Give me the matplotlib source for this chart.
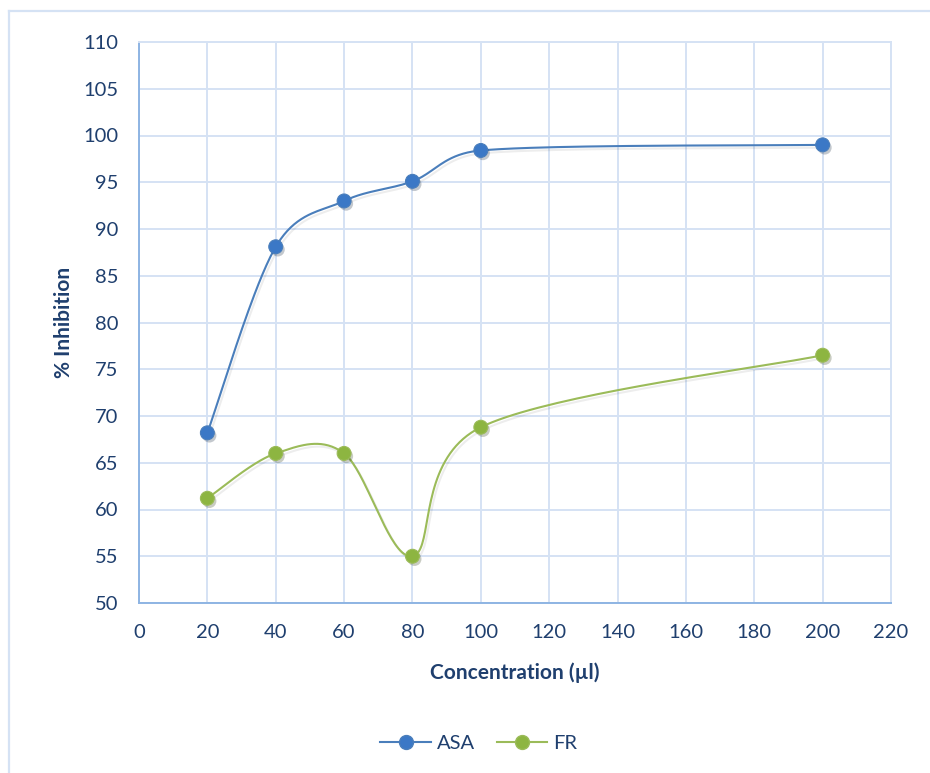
import numpy as np
import matplotlib.pyplot as plt
from matplotlib import patheffects as pe
from matplotlib.lines import Line2D

plt.rcParams['font.family'] = ['Lato', 'DejaVu Sans']

conc = [20, 40, 60, 80, 100, 200]
asa = [68.2, 88.1, 93.0, 95.1, 98.4, 99.0]
fr = [61.2, 66.0, 66.0, 55.0, 68.8, 76.5]

xticks = list(range(0, 221, 20))
yticks = list(range(50, 111, 5))

text_col = '#1F3F6E'
grid_col = '#D5E2F4'
axis_col = '#8EB4E3'
asa_line, asa_mark = '#4A7EBB', '#3B78C6'
fr_line, fr_mark = '#9BBB59', '#8DB541'


def smooth(ax, xs, ys, n=40):
    # office-style smoothed line: bezier with 1/6 tension in screen space,
    # handles capped at half the segment length
    pts = ax.transData.transform(np.column_stack([xs, ys]))
    p = np.vstack([pts[0], pts, pts[-1]])
    t = np.linspace(0, 1, n)[:, None]
    out = []
    for i in range(1, len(p) - 2):
        p0, p1, p2, p3 = p[i - 1], p[i], p[i + 1], p[i + 2]
        d12 = np.hypot(*(p2 - p1))
        d02 = np.hypot(*(p2 - p0))
        d13 = np.hypot(*(p3 - p1))
        f1 = min(1 / 6, d12 / (2 * d02)) if d02 else 0
        f2 = min(1 / 6, d12 / (2 * d13)) if d13 else 0
        c1 = p1 + (p2 - p0) * f1
        c2 = p2 - (p3 - p1) * f2
        seg = ((1 - t) ** 3) * p1 + 3 * ((1 - t) ** 2) * t * c1 \
            + 3 * (1 - t) * t ** 2 * c2 + t ** 3 * p2
        out.append(seg)
    out = np.vstack(out)
    d = ax.transData.inverted().transform(out)
    return d[:, 0], d[:, 1]


fig = plt.figure(figsize=(9.3, 7.73), dpi=100)
ax = fig.add_axes([139 / 930, 1 - 603 / 773, (891 - 139) / 930, (603 - 42) / 773])
ax.set_xlim(0, 220)
ax.set_ylim(50, 110)
ax.set_xticks(xticks)
ax.set_yticks(yticks)
ax.grid(True, color=grid_col, linewidth=1.4)
ax.set_axisbelow(True)
ax.tick_params(length=0, labelsize=14.5, labelcolor=text_col)
ax.tick_params(axis='y', pad=15)
ax.tick_params(axis='x', pad=15)
for s in ['top', 'right']:
    ax.spines[s].set_color(grid_col)
    ax.spines[s].set_linewidth(1.4)
for s in ['left', 'bottom']:
    ax.spines[s].set_color(axis_col)
    ax.spines[s].set_linewidth(1.4)

shadow = [pe.SimpleLineShadow(offset=(1.5, -2), shadow_color='k', alpha=0.07, rho=1), pe.Normal()]

for ys, lc, mc in [(asa, asa_line, asa_mark), (fr, fr_line, fr_mark)]:
    sx, sy = smooth(ax, conc, ys)
    ax.plot(sx, sy, color=lc, linewidth=1.5, path_effects=shadow, zorder=3)
    ax.plot(conc, ys, linestyle='none', marker='o', markersize=10,
            markerfacecolor=mc, markeredgecolor=lc, markeredgewidth=0.8,
            path_effects=[pe.SimplePatchShadow(offset=(1.5, -2), alpha=0.25), pe.Normal()],
            zorder=4, clip_on=False)

ax.set_ylabel('% Inhibition', fontsize=15, fontweight='bold', color=text_col)
ax.yaxis.set_label_coords(-0.087, 0.5)
ax.set_xlabel('Concentration (µl)', fontsize=15, fontweight='bold', color=text_col)
ax.xaxis.set_label_coords(0.5, -0.106)

handles = [
    Line2D([], [], color=asa_line, linewidth=1.5, marker='o', markersize=10,
           markerfacecolor=asa_mark, markeredgecolor=asa_line),
    Line2D([], [], color=fr_line, linewidth=1.5, marker='o', markersize=10,
           markerfacecolor=fr_mark, markeredgecolor=fr_line),
]
leg = fig.legend(handles, ['ASA', 'FR'], loc='center', ncols=2,
                 bbox_to_anchor=(479 / 930, 1 - 743 / 773), frameon=False,
                 fontsize=14.5, handlelength=2.5, handletextpad=0.3, columnspacing=1.1)
for t in leg.get_texts():
    t.set_color(text_col)

# chart area outline (only left and top edges fall inside the image)
fig.add_artist(Line2D([9 / 930, 9 / 930], [0, 1 - 11 / 773], color=grid_col, linewidth=1.6))
fig.add_artist(Line2D([9 / 930, 1], [1 - 11 / 773, 1 - 11 / 773], color=grid_col, linewidth=1.6))

fig.savefig('out.png', dpi=100)
